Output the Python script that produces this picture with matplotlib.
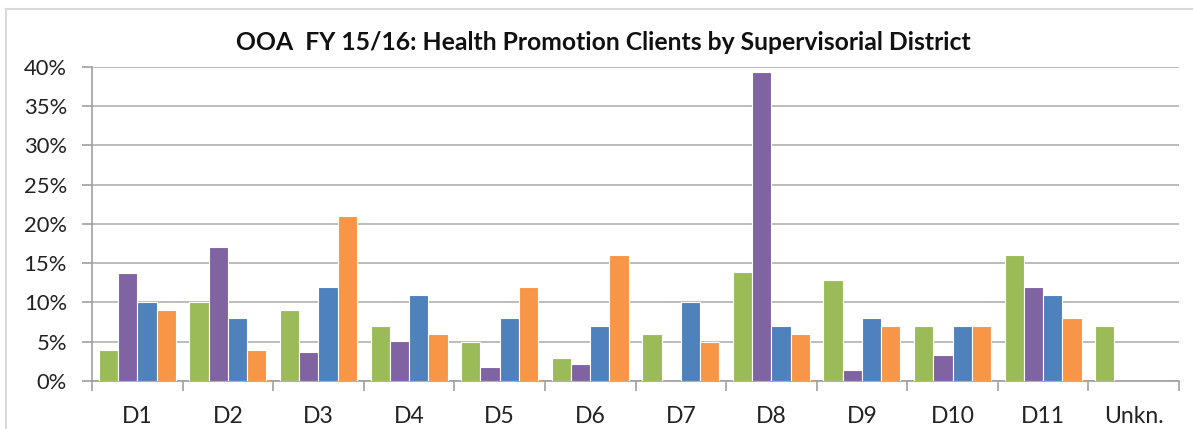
import matplotlib
matplotlib.use("Agg")
import matplotlib.pyplot as plt
import numpy as np
from matplotlib.lines import Line2D

categories = ["D1", "D2", "D3", "D4", "D5", "D6", "D7", "D8", "D9", "D10", "D11", "Unkn."]
series_green = [4, 10, 9, 7, 4.9, 2.9, 6, 13.9, 12.9, 7, 16, 7]
series_purple = [13.8, 17, 3.7, 5.1, 1.8, 2.2, 0, 39.3, 1.4, 3.3, 11.9, 0]
series_blue = [10, 8, 12, 11, 8, 7, 10, 7, 8, 7, 11, 0]
series_orange = [9, 4, 21, 6, 12, 16, 5, 6, 7, 7, 8, 0]
yticks = [0, 5, 10, 15, 20, 25, 30, 35, 40]
title = "OOA  FY 15/16: Health Promotion Clients by Supervisorial District"

colors = ["#9BBB59", "#8064A2", "#4F81BD", "#F79646"]
series = [series_green, series_purple, series_blue, series_orange]

plt.rcParams['font.family'] = ['Lato', 'DejaVu Sans']

W, H = 1193, 429
fig = plt.figure(figsize=(W / 100, H / 100), dpi=100)
ax = fig.add_axes([92 / W, (H - 381) / H, (1179 - 92) / W, (381 - 66.7) / H])

x = np.arange(len(categories))
bw = 0.2125
for i, (vals, c) in enumerate(zip(series, colors)):
    ax.bar(x + (i - 1.5) * bw, vals, width=bw, color=c, edgecolor="white", linewidth=0.8, zorder=3)

ax.set_xlim(-0.5, len(categories) - 0.5)
ax.set_ylim(0, 40)
ax.set_yticks(yticks)
ax.set_yticklabels([f"{v}%" for v in yticks], fontsize=15.8, color="#222222")
ax.yaxis.grid(True, color="#B0B0B0", linewidth=1.2, zorder=0)
ax.set_axisbelow(True)

ax.set_xticks(np.arange(-0.5, len(categories) + 0.5, 1))
ax.set_xticklabels([])
ax.set_xticks(x, minor=True)
ax.set_xticklabels(categories, minor=True, fontsize=16.5, color="#222222")
ax.tick_params(axis="x", which="major", length=7, color="#A0A0A0", width=1.2)
ax.tick_params(axis="x", which="minor", length=0, pad=18)
ax.tick_params(axis="y", length=7, color="#A0A0A0", width=1.2, pad=11)

for s in ["top", "right"]:
    ax.spines[s].set_visible(False)
for s in ["left", "bottom"]:
    ax.spines[s].set_color("#A0A0A0")
    ax.spines[s].set_linewidth(1.2)

fig.text(603 / W, 1 - 42 / H, title, fontsize=17.8, fontweight="bold", ha="center", va="center", color="#111111")

# outer chart border (partially visible)
fig.add_artist(Line2D([6 / W, 1.0], [1 - 9 / H, 1 - 9 / H], color="#D9D9D9", linewidth=1.5, transform=fig.transFigure))
fig.add_artist(Line2D([6 / W, 6 / W], [0, 1 - 9 / H], color="#D9D9D9", linewidth=1.5, transform=fig.transFigure))

fig.savefig("out.png", dpi=100)
